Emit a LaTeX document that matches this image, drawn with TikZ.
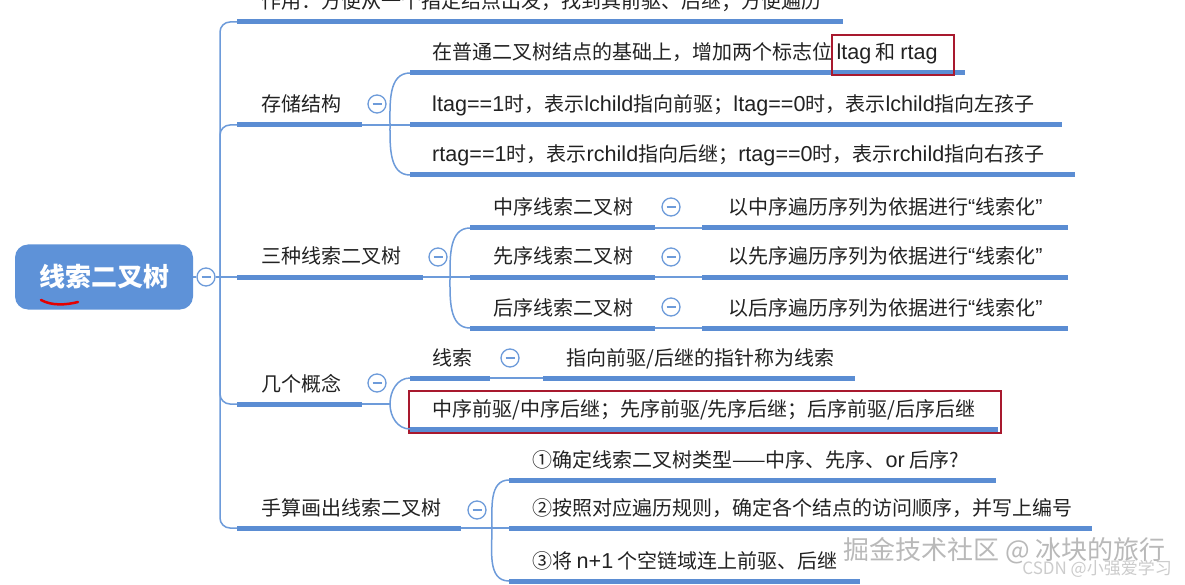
\documentclass[tikz,border=0pt]{standalone}
\usepackage{fontspec}
\setmainfont{Noto Sans CJK SC}
\newfontfamily\lat[Scale=1.08]{Liberation Sans}
\definecolor{mmblue}{HTML}{5B8DD3}
\definecolor{mmthin}{HTML}{6D9BDA}
\definecolor{mmred}{HTML}{A8192E}
\definecolor{mmtext}{HTML}{222222}
\definecolor{rootfill}{HTML}{5E92D8}
\newcommand{\mmtopic}[6]{%
  \coordinate (#1-l) at (#2,#4);
  \coordinate (#1-r) at (#3,#4);
  \node[txt, anchor=base west] (#1) at (#5,#4-13) {#6};
  \draw[bar] (#1-l) -- (#1-r);
}
\begin{document}
\begin{tikzpicture}[x=1pt,y=-1pt,
  bar/.style={draw=mmblue, line width=5pt},
  conn/.style={draw=mmthin, line width=1.5pt},
  txt/.style={font=\fontsize{20}{24}\selectfont, text=mmtext, inner sep=0pt},
  fold/.style={circle, draw=mmthin, line width=1.3pt, fill=white, minimum size=18pt, inner sep=0pt,
    path picture={\draw[mmthin, line width=1.3pt] ([xshift=-4.5pt]path picture bounding box.center) -- ([xshift=4.5pt]path picture bounding box.center);}},
  redbox/.style={draw=mmred, line width=2pt, inner sep=0pt},
  rootbox/.style={rounded corners=13pt, fill=rootfill, text=white, minimum width=178pt, minimum height=65pt,
    font=\fontsize{26}{30}\selectfont\bfseries, inner sep=0pt},
]
\fill[white] (0,0) rectangle (1185,585);
\clip (0,0) rectangle (1185,585);
\useasboundingbox (0,0) rectangle (1185,585);

% root
\node[rootbox] (root) at (104,277) {线索二叉树};
\draw[red!90!black, line width=2.5pt, line cap=round] (41,300) .. controls (52,306) and (66,305) .. (78,302);
\node[fold] (f0) at (206,277) {};
\coordinate (trunk) at (220,277);
\draw[conn] (root) -- (f0);
\draw[conn] (f0) -- (trunk);

% level 1
\mmtopic{t1}{237}{843}{22}{261}{作用：方便从一个指定结点出发，找到其前驱、后继；方便遍历}
\mmtopic{t2}{237}{362}{125}{261}{存储结构}
\mmtopic{t3}{237}{423}{277}{261}{三种线索二叉树}
\mmtopic{t4}{237}{362}{404}{261}{几个概念}
\mmtopic{t5}{237}{461}{528}{261}{手算画出线索二叉树}
\draw[conn, rounded corners=10pt] (trunk) |- (t1-l);
\draw[conn, rounded corners=10pt] (trunk) |- (t2-l);
\draw[conn] (trunk) -- (t3-l);
\draw[conn, rounded corners=10pt] (trunk) |- (t4-l);
\draw[conn, rounded corners=10pt] (trunk) |- (t5-l);

\node[fold] (f2) at (377,104) {};
\node[fold] (f3) at (438,257) {};
\node[fold] (f4) at (377,383) {};
\node[fold] (f5) at (477,510) {};

% storage structure
\mmtopic{s1}{410}{965}{73}{432}{在普通二叉树结点的基础上，增加两个标志位 {\lat ltag} 和 {\lat rtag}}
\mmtopic{s2}{410}{1062}{125}{432}{{\lat ltag==1}时，表示{\lat lchild}指向前驱；{\lat ltag==0}时，表示{\lat lchild}指向左孩子}
\mmtopic{s3}{410}{1075}{175}{432}{{\lat rtag==1}时，表示{\lat rchild}指向后继；{\lat rtag==0}时，表示{\lat rchild}指向右孩子}
\node[redbox, minimum width=122pt, minimum height=40pt, anchor=north west] (rb1) at (831,34) {};
\coordinate (J2) at (390,125);
\draw[conn] (t2-r) -- (J2);
\draw[conn] (J2) to[out=90,in=180] (s1-l);
\draw[conn] (J2) -- (s2-l);
\draw[conn] (J2) to[out=-90,in=180] (s3-l);

% three kinds
\mmtopic{m1}{470}{655}{228}{493}{中序线索二叉树}
\mmtopic{m2}{470}{655}{277}{493}{先序线索二叉树}
\mmtopic{m3}{470}{655}{328}{493}{后序线索二叉树}
\mmtopic{n1}{702}{1068}{228}{728}{以中序遍历序列为依据进行{\lat “}线索化{\lat ”}}
\mmtopic{n2}{702}{1068}{277}{728}{以先序遍历序列为依据进行{\lat “}线索化{\lat ”}}
\mmtopic{n3}{702}{1068}{328}{728}{以后序遍历序列为依据进行{\lat “}线索化{\lat ”}}
\coordinate (J3) at (450,277);
\draw[conn] (t3-r) -- (J3);
\draw[conn] (J3) to[out=90,in=180] (m1-l);
\draw[conn] (J3) -- (m2-l);
\draw[conn] (J3) to[out=-90,in=180] (m3-l);
\draw[conn] (m1-r) -- (n1-l);
\draw[conn] (m2-r) -- (n2-l);
\draw[conn] (m3-r) -- (n3-l);
\node[fold] (fm1) at (671,207) {};
\node[fold] (fm2) at (671,257) {};
\node[fold] (fm3) at (671,307) {};

% concepts
\mmtopic{k1}{410}{490}{378}{432}{线索}
\mmtopic{k1b}{543}{855}{378}{566}{指向前驱/后继的指针称为线索}
\mmtopic{k2}{410}{998}{429}{432}{中序前驱/中序后继；先序前驱/先序后继；后序前驱/后序后继}
\node[redbox, minimum width=592pt, minimum height=42pt, anchor=north west] (rb2) at (408,390) {};
\coordinate (J4) at (390,404);
\draw[conn] (t4-r) -- (J4);
\draw[conn] (J4) to[out=90,in=180] (k1-l);
\draw[conn] (J4) to[out=-90,in=180] (k2-l);
\draw[conn] (k1-r) -- (k1b-l);
\node[fold] (fk1) at (510,358) {};

% manual
\mmtopic{h1}{509}{996}{480}{532}{①确定线索二叉树类型——中序、先序、{\lat or} 后序?}
\mmtopic{h2}{509}{1092}{528}{532}{②按照对应遍历规则，确定各个结点的访问顺序，并写上编号}
\mmtopic{h3}{509}{860}{581}{532}{③将 {\lat n+1} 个空链域连上前驱、后继}
\coordinate (J5) at (492,528);
\draw[conn] (t5-r) -- (J5);
\draw[conn] (J5) to[out=90,in=180] (h1-l);
\draw[conn] (J5) -- (h2-l);
\draw[conn] (J5) to[out=-90,in=180] (h3-l);

% watermarks
\node[font=\fontsize{26}{30}\selectfont, text=gray!55, anchor=west, inner sep=0pt] (wm1) at (843,551) {掘金技术社区 @ 冰块的旅行};
\node[font=\fontsize{17}{20}\selectfont, text=gray!40, anchor=east, inner sep=0pt] (wm2) at (1172,569) {CSDN @小强爱学习};
\end{tikzpicture}
\end{document}
